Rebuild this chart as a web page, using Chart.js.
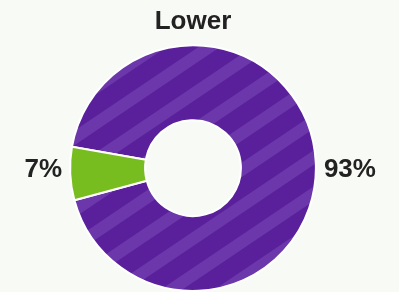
<!DOCTYPE html>
<html>
<head>
<meta charset="utf-8">
<script src="https://cdn.jsdelivr.net/npm/chart.js@4"></script>
<style>
    html, body {
        margin: 0;
        padding: 0;
        background: #f8fbf5;
    }
    #wrap {
        width: 399px;
        height: 292px;
    }
</style>
</head>
<body>
<div id="wrap"><canvas id="pieChart" width="399" height="292"></canvas></div>
<script>
// ===========================
// DATA
// ===========================

const categories = ["Other", "Lower"];
const shares = [93, 7];
const sliceLabels = ["93%", "7%"];
const chartTitle = "Lower";

// ===========================
// HELPER
// ===========================

function makeStripes(ctx) {
    const tile = document.createElement("canvas");
    tile.width = 30;
    tile.height = 1;
    const t = tile.getContext("2d");
    t.fillStyle = "#5a209c";
    t.fillRect(0, 0, 30, 1);
    t.fillStyle = "#6b37aa";
    t.fillRect(0, 0, 12, 1);

    const pattern = ctx.createPattern(tile, "repeat");
    const m = new DOMMatrix();
    pattern.setTransform(m.rotate(56));
    return pattern;
}

// Label persen di kiri / kanan donat, sejajar titik tengah
const outsideLabels = {
    id: "outsideLabels",
    afterDatasetsDraw(chart) {
        const ctx = chart.ctx;
        const arcs = chart.getDatasetMeta(0).data;

        ctx.save();
        ctx.font = "bold 26px 'Liberation Sans', Arial, sans-serif";
        ctx.fillStyle = "#222222";
        ctx.textBaseline = "middle";

        arcs.forEach((arc, i) => {
            const mid = (arc.startAngle + arc.endAngle) / 2;
            const right = Math.cos(mid) >= 0;
            const r = arc.outerRadius + 8;
            const x = right ? arc.x + r : arc.x - r;
            ctx.textAlign = right ? "left" : "right";
            ctx.fillText(sliceLabels[i], x, arc.y + 2);
        });

        ctx.restore();
    }
};

// ===========================
// CHART
// ===========================

const ctx = document.getElementById("pieChart").getContext("2d");

new Chart(ctx, {
    type: "doughnut",
    data: {
        labels: categories,
        datasets: [{
            data: shares,
            backgroundColor: [makeStripes(ctx), "#78bd1f"],
            borderColor: "#ffffff",
            borderWidth: 2
        }]
    },
    options: {
        responsive: false,
        animation: false,
        cutout: "39%",
        rotation: -80,
        layout: {
            padding: { left: 40, right: 53, top: 0, bottom: 0 }
        },
        plugins: {
            legend: { display: false },
            tooltip: { enabled: false },
            title: {
                display: true,
                text: chartTitle,
                color: "#222222",
                font: { family: "'Liberation Sans', Arial, sans-serif", size: 26, weight: "bold" },
                padding: { top: 6, bottom: 7 }
            }
        }
    },
    plugins: [outsideLabels]
});
</script>
</body>
</html>
